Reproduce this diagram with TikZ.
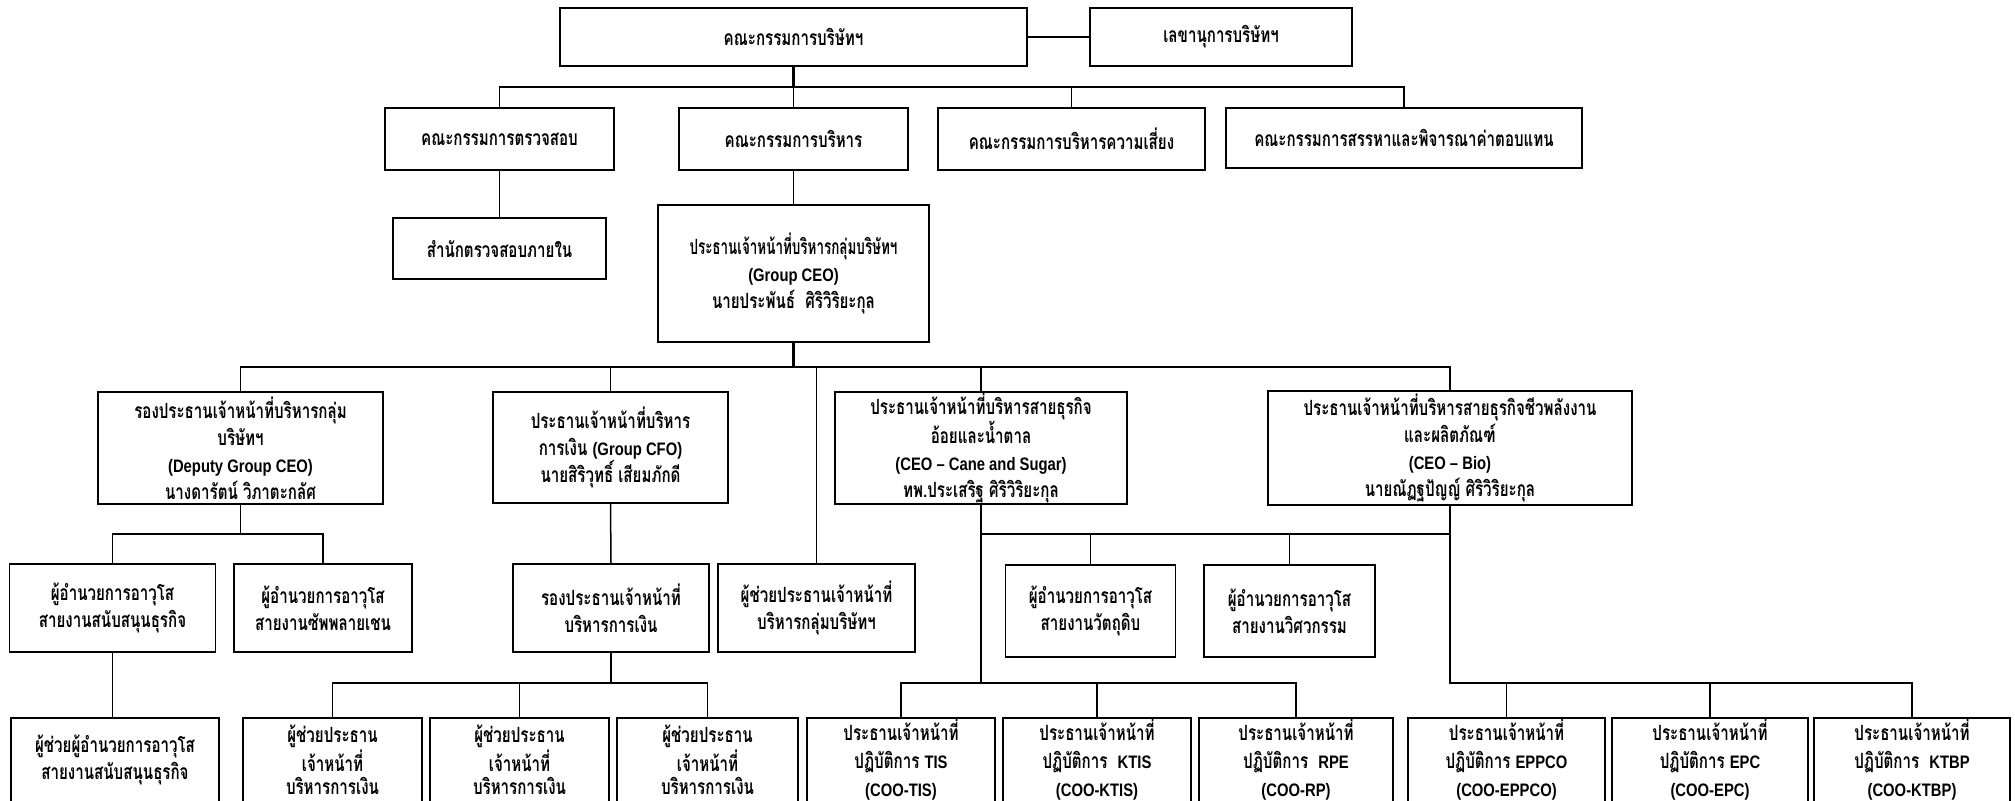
\documentclass[tikz,border=0pt]{standalone}
\usepackage{fontspec}
\newfontfamily\thai[Script=Thai,FakeStretch=0.72,BoldFont={Loma Bold}]{Loma}
\newfontfamily\thain[Script=Thai,FakeStretch=0.64,BoldFont={Loma Bold}]{Loma}
\newfontface\enf[FakeStretch=0.82,Scale=0.86]{Liberation Sans Bold}
\newcommand\en[1]{{\enf #1}}
\begin{document}
\begin{tikzpicture}[x=0.5pt,y=-0.5pt,
  box/.style={draw, line width=0.9pt, align=center, inner sep=0pt, fill=white,
    font=\fontsize{10.5}{13.5}\selectfont\thai\bfseries},
  conn/.style={line width=0.75pt},
  trunk/.style={line width=1.2pt},
  lowrow/.style={font=\fontsize{10.5}{11.5}\selectfont\thai\bfseries},
  coorow/.style={font=\fontsize{10.5}{14}\selectfont\thai\bfseries}]
\useasboundingbox (0,0) rectangle (2015,800);
\fill[white] (0,0) rectangle (2015,800);
\clip (0,0) rectangle (2015,800);
% bus levels
\coordinate (y1) at (0,87);
\coordinate (y2) at (0,367);
\coordinate (y3) at (0,534);
\coordinate (y4) at (0,683);
% nodes
\node[box, minimum width=233.5pt, minimum height=29pt] (board) at (793.5,37) {คณะกรรมการบริษัทฯ};
\node[box, minimum width=131pt, minimum height=29pt] (sec) at (1221,37) {เลขานุการบริษัทฯ};
\node[box, minimum width=114.5pt, minimum height=31pt] (audit) at (499.5,139) {คณะกรรมการตรวจสอบ};
\node[box, minimum width=114.5pt, minimum height=31pt] (exec) at (793.5,139) {คณะกรรมการบริหาร};
\node[box, minimum width=133.5pt, minimum height=31pt] (risk) at (1071.5,139) {คณะกรรมการบริหารความเสี่ยง};
\node[box, minimum width=178pt, minimum height=30pt] (nom) at (1404,138) {คณะกรรมการสรรหาและพิจารณาค่าตอบแทน};
\node[box, minimum width=106.5pt, minimum height=30.5pt] (ia) at (499.5,248.5) {สำนักตรวจสอบภายใน};
\node[box, minimum width=135.5pt, minimum height=68.5pt] (ceo) at (793.5,273.5) {{\thain\bfseries ประธานเจ้าหน้าที่บริหารกลุ่มบริษัทฯ}\\\en{(Group CEO)}\\นายประพันธ์\ \ ศิริวิริยะกุล};
\node[box, minimum width=142.5pt, minimum height=56pt] (deputy) at (240.5,448) {รองประธานเจ้าหน้าที่บริหารกลุ่ม\\บริษัทฯ\\\en{(Deputy Group CEO)}\\นางดารัตน์ วิภาตะกลัศ};
\node[box, minimum width=117.5pt, minimum height=55.5pt] (cfo) at (610.5,447.5) {ประธานเจ้าหน้าที่บริหาร\\การเงิน \en{(Group CFO)}\\นายสิริวุทธิ์ เสียมภักดี};
\node[box, minimum width=146pt, minimum height=56pt] (cane) at (981,448) {ประธานเจ้าหน้าที่บริหารสายธุรกิจ\\อ้อยและน้ำตาล\\\en{(CEO – Cane and Sugar)}\\ทพ.ประเสริฐ ศิริวิริยะกุล};
\node[box, minimum width=182pt, minimum height=57pt] (bio) at (1450,448) {ประธานเจ้าหน้าที่บริหารสายธุรกิจชีวพลังงาน\\และผลิตภัณฑ์\\\en{(CEO – Bio)}\\นายณัฏฐปัญญ์ ศิริวิริยะกุล};
\node[box, minimum width=103pt, minimum height=44pt] (a1) at (112.5,608) {ผู้อำนวยการอาวุโส\\สายงานสนับสนุนธุรกิจ};
\node[box, minimum width=89pt, minimum height=44pt] (a2) at (323,608) {ผู้อำนวยการอาวุโส\\สายงานซัพพลายเชน};
\node[box, minimum width=98pt, minimum height=44pt] (c1) at (611,608) {รองประธานเจ้าหน้าที่\\บริหารการเงิน};
\node[box, minimum width=98.5pt, minimum height=44pt] (as) at (816.5,608) {ผู้ช่วยประธานเจ้าหน้าที่\\บริหารกลุ่มบริษัทฯ};
\node[box, minimum width=85pt, minimum height=46pt] (d1) at (1090.5,611) {ผู้อำนวยการอาวุโส\\สายงานวัตถุดิบ};
\node[box, minimum width=85.5pt, minimum height=46pt] (d2) at (1289.5,611) {ผู้อำนวยการอาวุโส\\สายงานวิศวกรรม};
\node[box, minimum width=104pt, minimum height=42pt] (b1) at (115,760) {ผู้ช่วยผู้อำนวยการอาวุโส\\สายงานสนับสนุนธุรกิจ};
\node[box, lowrow, minimum width=89.5pt, minimum height=42pt] (f1) at (332.5,760) {ผู้ช่วยประธาน\\เจ้าหน้าที่\\บริหารการเงิน};
\node[box, lowrow, minimum width=89.5pt, minimum height=42pt] (f2) at (519.5,760) {ผู้ช่วยประธาน\\เจ้าหน้าที่\\บริหารการเงิน};
\node[box, lowrow, minimum width=90.5pt, minimum height=42pt] (f3) at (707.5,760) {ผู้ช่วยประธาน\\เจ้าหน้าที่\\บริหารการเงิน};
\node[box, coorow, minimum width=94pt, minimum height=42pt] (tis) at (901,760) {ประธานเจ้าหน้าที่\\ปฏิบัติการ \en{TIS}\\\en{(COO-TIS)}};
\node[box, coorow, minimum width=94pt, minimum height=42pt] (ktis) at (1097,760) {ประธานเจ้าหน้าที่\\ปฏิบัติการ \ \en{KTIS}\\\en{(COO-KTIS)}};
\node[box, coorow, minimum width=97pt, minimum height=42pt] (rp) at (1296,760) {ประธานเจ้าหน้าที่\\ปฏิบัติการ \ \en{RPE}\\\en{(COO-RP)}};
\node[box, coorow, minimum width=98.5pt, minimum height=42pt] (eppco) at (1506.5,760) {ประธานเจ้าหน้าที่\\ปฏิบัติการ \en{EPPCO}\\\en{(COO-EPPCO)}};
\node[box, coorow, minimum width=98pt, minimum height=42pt] (epc) at (1710,760) {ประธานเจ้าหน้าที่\\ปฏิบัติการ \en{EPC}\\\en{(COO-EPC)}};
\node[box, coorow, minimum width=98pt, minimum height=42pt] (ktbp) at (1912,760) {ประธานเจ้าหน้าที่\\ปฏิบัติการ \ \en{KTBP}\\\en{(COO-KTBP)}};
% connectors
\draw[conn] (board.east) -- (sec.west);
\draw[trunk] (board.south) -- (board.south |- y1);
\foreach \c in {audit,exec,risk,nom} \draw[conn] (board.south) -- (board.south |- y1) -| (\c.north);
\draw[conn] (audit.south) -- (ia.north);
\draw[conn] (exec.south) -- (ceo.north);
\draw[trunk] (ceo.south) -- (ceo.south |- y2);
\foreach \c in {deputy,cfo,as,cane,bio} \draw[conn] (ceo.south) -- (ceo.south |- y2) -| (\c.north);
\foreach \c in {a1,a2} \draw[conn] (deputy.south) -- (deputy.south |- y3) -| (\c.north);
\draw[conn] (a1.south) -- (a1.south |- b1.north);
\draw[conn] (cfo.south) -- (c1.north);
\draw[trunk] (c1.south) -- (c1.south |- y4);
\foreach \c in {f1,f2,f3} \draw[conn] (c1.south) -- (c1.south |- y4) -| (\c.north);
\draw[trunk] (cane.south) -- (cane.south |- y4);
\draw[trunk] (cane.south |- y3) -- (bio.south |- y3);
\foreach \c in {d1,d2} \draw[conn] (cane.south) -- (cane.south |- y3) -| (\c.north);
\foreach \c in {tis,ktis,rp} \draw[conn] (cane.south) -- (cane.south |- y4) -| (\c.north);
\draw[trunk] (bio.south) -- (bio.south |- y4);
\foreach \c in {eppco,epc,ktbp} \draw[conn] (bio.south) -- (bio.south |- y4) -| (\c.north);
\end{tikzpicture}
\end{document}
